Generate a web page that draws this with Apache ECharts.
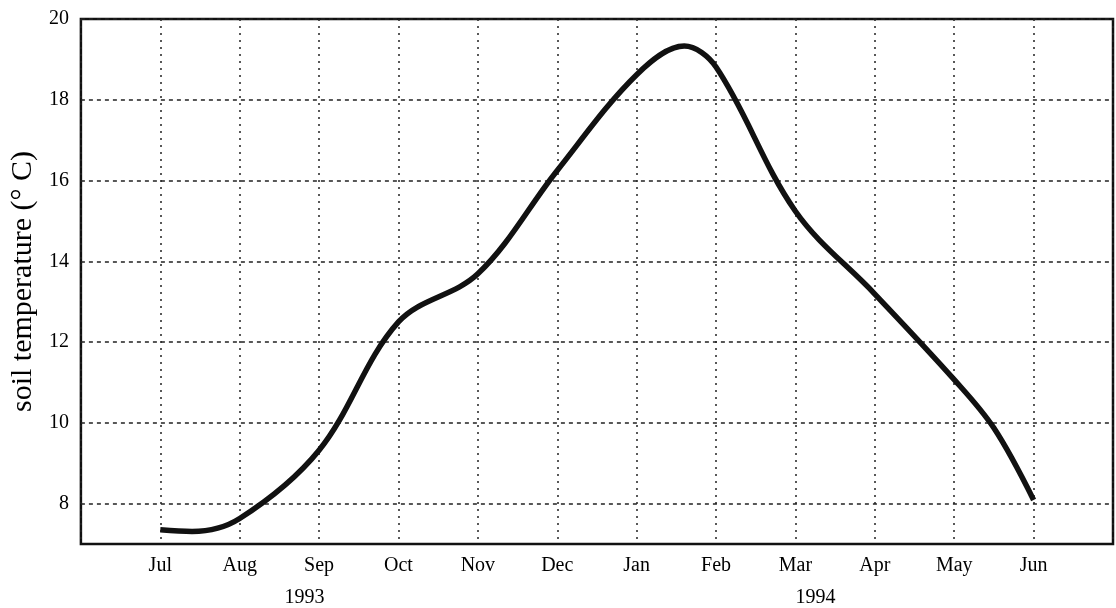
<!DOCTYPE html>
<html>
<head>
<meta charset="utf-8">
<script src="https://cdn.jsdelivr.net/npm/echarts@6/dist/echarts.min.js"></script>
<style>html,body{margin:0;padding:0;background:#fff;}#c{width:1116px;height:608px;}</style>
</head>
<body>
<div id="c"></div>
<script>
// month tick labels (Jul = position 1 ... Jun = position 12)
const months = ['Jul','Aug','Sep','Oct','Nov','Dec','Jan','Feb','Mar','Apr','May','Jun'];
const yearLabels = ['', '', '1993', '', '', '', '', '', '1994', '', '', ''];
// curve: month position and soil temperature (°C)
const monthPos = [1, 1.4, 2, 3, 4, 5, 6, 7, 7.6, 8, 9, 10, 11, 11.5, 12];
const soilTemp = [7.35, 7.31, 7.63, 9.32, 12.5, 13.69, 16.25, 18.62, 19.33, 18.81, 15.24, 13.19, 11.07, 9.87, 8.09];
const yTicks = [8, 10, 12, 14, 16, 18, 20];

const data = monthPos.map((m, i) => [m, soilTemp[i]]);
const font = '"Liberation Serif", "Times New Roman", serif';
const txt = {fontFamily: font, color: '#000'};

const chart = echarts.init(document.getElementById('c'), null, {renderer: 'canvas'});
chart.setOption({
  backgroundColor: '#fff',
  animation: false,
  grid: {left: 80, right: 3, top: 19, bottom: 64, show: true, borderColor: '#111', borderWidth: 2.5, backgroundColor: 'transparent'},
  xAxis: {
    type: 'value', min: 0, max: 13, interval: 1,
    axisLine: {show: false}, axisTick: {show: false},
    splitLine: {show: true, lineStyle: {color: '#222', width: 1.5, type: [2, 5]}},
    axisLabel: Object.assign({}, txt, {
      margin: 12, fontSize: 20,
      formatter: function (v) {
        const i = Math.round(v);
        if (i < 1 || i > 12) return '';
        const yr = yearLabels[i - 1];
        if (!yr) return '{m|' + months[i - 1] + '}';
        return '{m|' + months[i - 1] + '}\n{' + (i < 6 ? 'a' : 'b') + '|' + yr + '}';
      },
      rich: {
        m: Object.assign({}, txt, {fontSize: 20, lineHeight: 20}),
        a: Object.assign({}, txt, {fontSize: 20, lineHeight: 44, padding: [0, 29, 0, 0]}),
        b: Object.assign({}, txt, {fontSize: 20, lineHeight: 44, padding: [0, 0, 0, 40]})
      }
    })
  },
  yAxis: {
    type: 'value', min: 7, max: 20, interval: 1,
    name: 'soil temperature (° C)', nameLocation: 'middle', nameGap: 20,
    nameTextStyle: Object.assign({}, txt, {fontSize: 30}),
    axisLine: {show: false}, axisTick: {show: false},
    splitLine: {show: true, lineStyle: {color: ['rgba(0,0,0,0)', '#222'], width: 1.5, type: [4, 4]}},
    axisLabel: Object.assign({}, txt, {
      margin: 12, fontSize: 20,
      formatter: function (v) { return yTicks.indexOf(v) >= 0 ? String(v) : ''; }
    })
  },
  series: [{
    type: 'line', data: data, smooth: 0.35, showSymbol: false,
    lineStyle: {color: '#111', width: 5.5}
  }]
});
</script>
</body>
</html>
